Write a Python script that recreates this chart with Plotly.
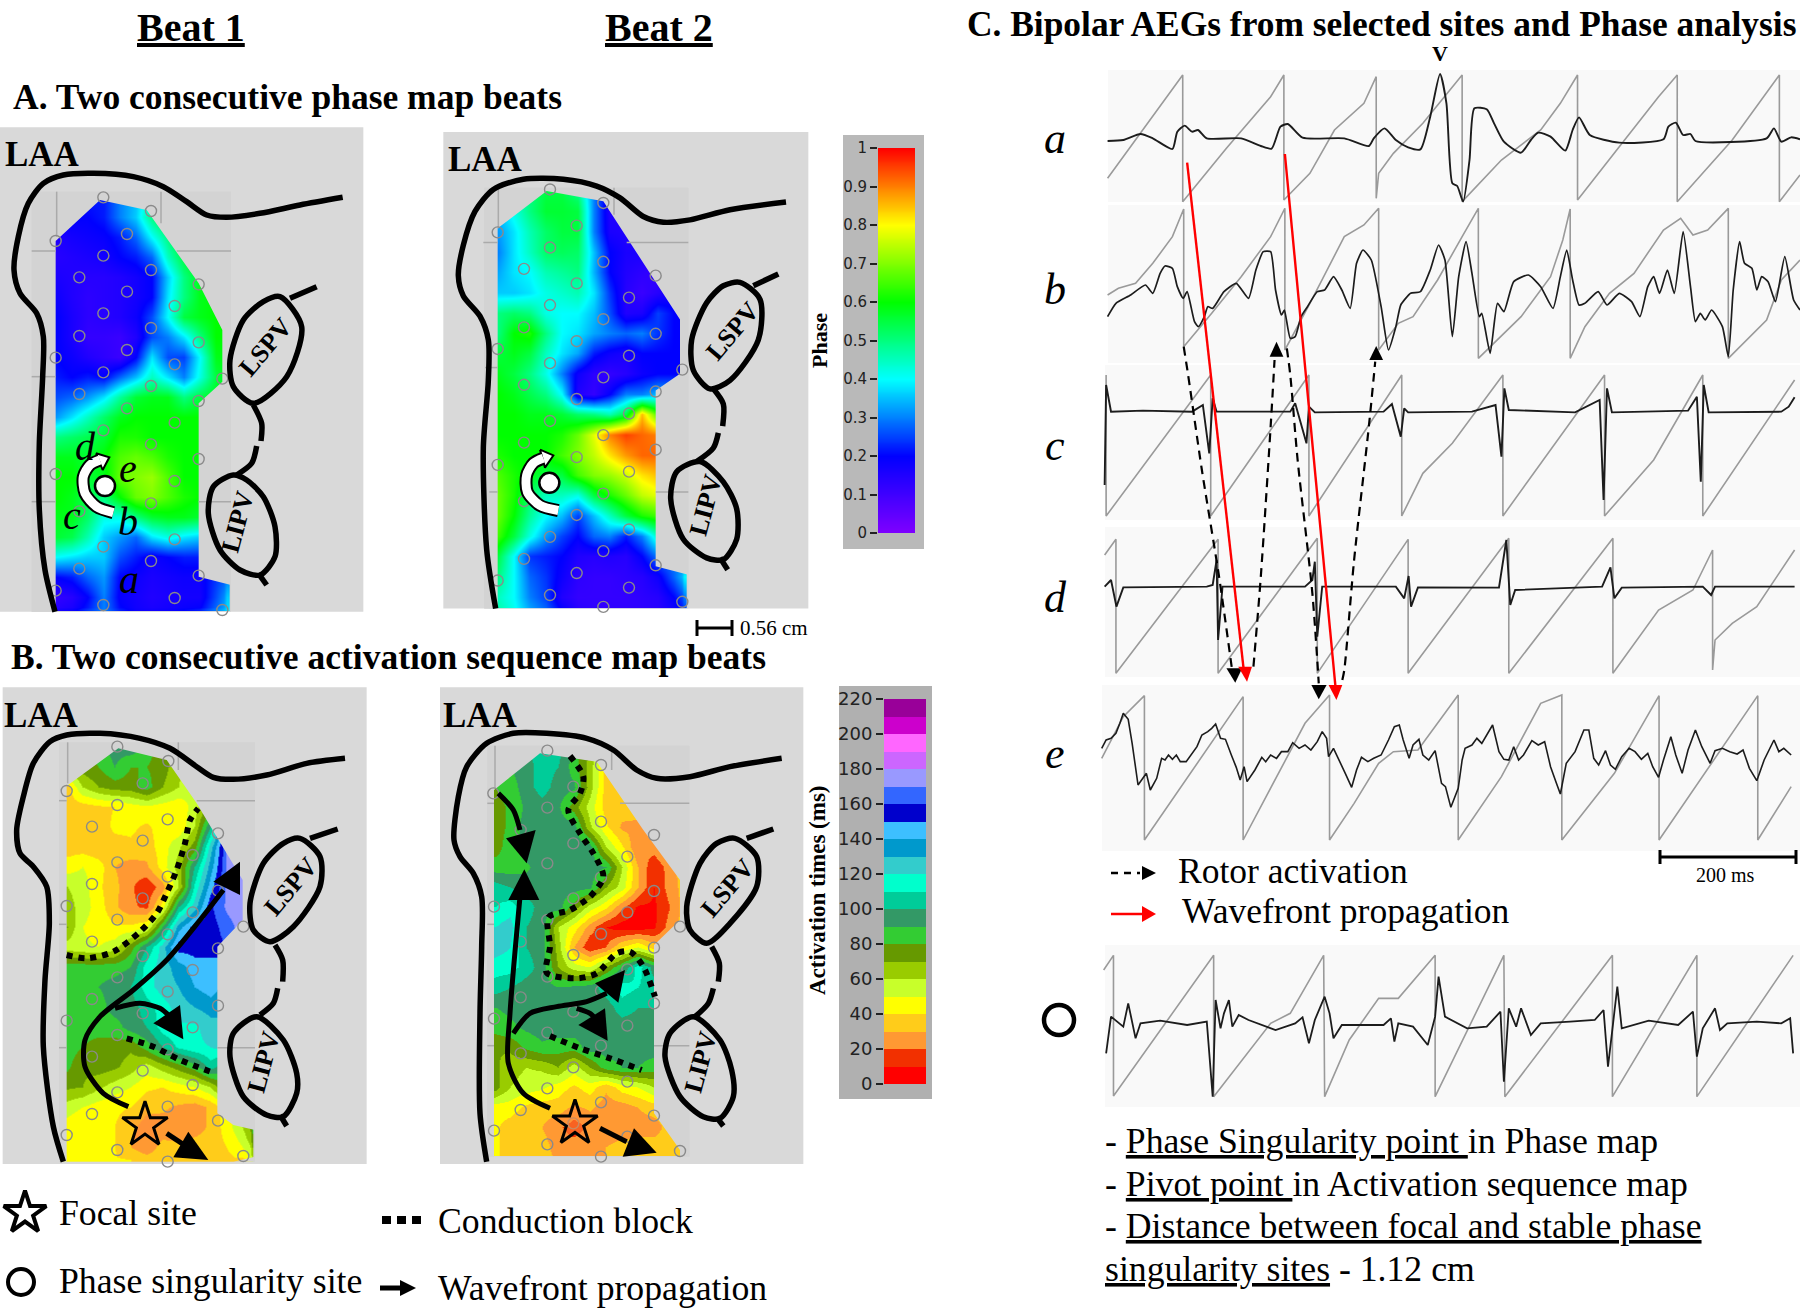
import plotly.graph_objects as go

W, H = 1800, 1308
SERIF = "Liberation Serif"
GRAY = "#9a9a9a"

# ---------- phase maps (values in percent of a cycle) ----------
a1_x = [167,215,263,311,359,407,455,503,551,599,647,695]
a1_y = [260+60*i for i in range(22)]
a1_z = [
[20,20,22,22,30,35,45,55,60,60,60,60],
[20,20,20,22,30,36,50,58,60,60,60,60],
[15,17,18,19,22,28,40,50,60,60,60,60],
[14,15,16,17,20,22,28,45,55,60,60,60],
[16,15,14,14,15,17,20,36,50,58,60,60],
[18,15,13,14,15,17,20,38,50,58,60,60],
[20,16,13,14,15,18,26,40,55,58,60,60],
[20,16,12,12,11,15,26,30,38,50,60,60],
[20,18,15,13,11,20,38,26,25,40,58,60],
[22,20,22,20,28,35,45,38,30,42,55,60],
[26,28,32,38,48,56,58,58,50,55,58,60],
[32,38,45,52,58,60,60,60,60,60,60,60],
[50,52,54,56,62,62,60,60,60,60,60,60],
[58,58,56,60,66,68,66,62,60,60,60,60],
[60,60,56,58,68,70,72,66,60,60,60,60],
[60,58,54,50,60,68,70,66,62,60,60,60],
[58,58,52,42,42,50,56,58,58,56,56,56],
[56,54,46,36,32,28,38,42,38,36,36,36],
[40,38,36,36,26,22,18,20,22,22,22,24],
[20,22,28,32,20,18,16,17,18,18,24,30],
[12,14,20,30,19,17,15,16,17,17,26,36],
[16,18,24,30,22,18,17,18,20,22,30,38]]
a1_poly = [(167,393),(300,270),(440,300),(596,520),(667,660),(667,815),(596,880),(596,1400),(693,1425),(693,1505),(167,1505)]
a1_sx = [310,453,167,381,310,453,238,596,381,524,310,453,238,596,381,167,524,310,667,453,238,596,381,524,310,453,596,167,524,453,238,524,310,453,238,596,167,524,310,667]
a1_sy = [262,303,393,372,437,480,502,523,545,588,610,654,678,697,720,743,763,787,806,828,852,873,895,938,961,1003,1047,1092,1113,1180,1204,1288,1310,1353,1376,1397,1442,1464,1485,1500]

a2_x = [203,251,299,347,395,443,491,539,587,635,683,731,779]
a2_y = [240+60*i for i in range(22)]
a2_z = [
[40,45,50,55,55,50,30,16,15,15,15,15,15],
[35,42,50,56,56,55,30,15,15,15,15,15,15],
[32,38,46,52,55,55,30,16,15,15,15,15,15],
[30,38,45,52,53,52,35,20,16,16,16,16,16],
[33,38,40,46,48,50,34,20,15,13,12,14,18],
[36,36,38,42,44,46,38,24,14,11,14,18,20],
[50,52,50,42,40,40,35,26,15,16,25,20,20],
[50,60,62,50,40,38,33,30,28,30,24,20,20],
[55,58,55,45,38,33,22,18,16,20,20,20,20],
[58,55,50,42,30,18,13,12,14,18,20,20,20],
[60,58,54,50,40,15,12,20,30,30,35,35,35],
[60,60,58,58,56,52,50,46,55,85,65,60,60],
[60,60,60,60,62,68,78,90,95,92,90,90,90],
[62,60,60,60,65,70,75,82,88,92,92,92,92],
[66,62,58,55,55,65,70,72,76,82,85,85,85],
[68,62,52,45,45,42,55,62,68,75,78,78,78],
[68,60,48,40,35,25,35,45,55,62,65,65,65],
[65,55,42,32,25,20,28,30,22,30,45,45,45],
[55,40,24,22,20,15,14,15,14,20,30,30,30],
[50,40,28,24,18,13,12,12,13,14,18,28,40],
[45,40,30,25,15,12,12,12,12,13,14,20,30],
[48,42,35,30,22,15,13,13,13,13,14,16,22]]
a2_poly = [(203,350),(350,240),(520,270),(750,620),(750,780),(677,830),(677,1350),(775,1375),(775,1475),(203,1475)]
a2_sx = [360,520,203,440,360,520,282,677,440,597,360,520,282,677,440,203,597,360,757,520,282,677,440,597,360,520,282,677,440,203,597,520,282,440,597,360,520,282,677,440,203,597,360,757,520]
a2_sy = [235,275,362,342,407,449,470,490,513,555,577,619,643,662,684,707,727,749,768,791,813,833,855,898,920,962,984,1005,1027,1050,1070,1135,1157,1198,1241,1263,1305,1328,1347,1370,1392,1413,1435,1455,1470]

# ---------- activation maps (ms) ----------
c1_x = [200,248,296,344,392,440,488,536,584,632,680,728,776]
c1_y = [200+60*i for i in range(22)]
c1_z = [
[80,80,85,95,95,85,75,65,60,60,60,60,60],
[70,75,80,90,80,80,75,62,55,50,50,50,50],
[35,60,70,75,75,85,70,60,50,50,50,50,50],
[35,35,38,40,45,48,45,42,55,75,120,130,130],
[35,33,35,42,42,38,45,42,60,100,155,178,178],
[35,35,32,36,38,35,45,58,75,125,170,178,178],
[45,50,45,30,25,28,45,65,100,135,170,178,178],
[60,55,42,33,22,12,25,60,112,145,172,178,178],
[65,55,45,32,22,18,45,100,125,158,172,178,178],
[70,50,45,42,42,48,90,135,155,155,165,175,175],
[55,52,50,55,75,100,125,155,155,155,160,165,165],
[85,85,85,85,90,115,125,135,145,145,140,140,140],
[85,85,90,95,100,115,125,130,140,145,135,130,130],
[85,85,85,95,95,105,115,125,130,135,135,128,128],
[85,85,85,85,95,100,115,118,118,125,125,125,125],
[85,80,75,75,72,85,100,112,118,120,125,125,125],
[82,72,75,72,65,55,65,75,85,105,90,90,90],
[72,70,62,55,50,42,40,45,50,60,85,85,85],
[55,50,45,42,40,33,32,28,25,32,45,55,85],
[45,42,40,40,33,25,25,22,25,32,45,60,85],
[42,42,42,40,30,25,33,33,35,35,40,50,70],
[42,42,42,42,40,38,35,35,35,35,35,35,55]]
c1_poly = [(200,318),(355,205),(500,240),(590,370),(650,470),(728,600),(728,720),(652,800),(652,1300),(700,1335),(765,1350),(765,1430),(700,1445),(200,1445)]
c1_sx = [352,505,200,428,352,503,276,654,428,578,352,503,276,654,428,200,578,352,730,503,276,654,428,578,352,503,276,654,428,200,578,352,503,276,428,578,352,503,276,654,200,352,730,503]
c1_sy = [200,243,333,310,375,418,440,460,482,525,547,590,612,632,655,678,697,719,740,763,785,805,828,870,892,935,957,977,1000,1022,1042,1065,1108,1130,1172,1215,1237,1280,1302,1322,1365,1410,1428,1445]

c2_x = [192,240,288,336,384,432,480,528,576,624,672,720,768]
c2_y = [200+60*i for i in range(22)]
c2_z = [
[95,95,100,105,105,85,70,40,35,35,35,35,35],
[90,90,95,105,100,85,65,35,35,35,35,35,35],
[80,85,95,105,95,92,65,35,35,35,35,35,35],
[75,82,92,95,92,75,55,35,35,33,33,33,33],
[75,82,95,95,95,95,62,42,28,28,33,33,33],
[75,85,95,95,95,95,95,60,42,20,25,35,35],
[85,85,88,95,95,95,95,90,60,30,12,25,38],
[105,100,95,95,95,95,92,70,55,30,10,25,35],
[110,115,105,95,95,75,55,42,22,8,8,20,35],
[120,125,100,95,60,45,25,10,5,5,8,25,35],
[125,120,100,95,65,30,12,20,40,50,35,35,35],
[115,115,105,95,70,55,50,70,90,115,95,95,95],
[105,100,95,95,90,92,95,105,115,110,105,105,105],
[90,92,95,95,95,95,95,95,105,100,100,100,100],
[85,88,92,95,95,95,95,95,95,95,95,95,95],
[70,72,82,88,85,85,95,95,95,95,95,95,95],
[72,65,60,62,70,55,70,85,90,90,85,85,85],
[75,60,55,52,45,38,45,32,45,50,60,60,60],
[45,45,38,35,35,28,32,25,25,30,35,35,35],
[42,35,30,30,22,15,22,22,22,25,25,35,35],
[42,35,35,35,25,25,28,30,35,35,35,35,38],
[42,38,35,35,30,28,28,30,35,35,35,35,38]]
c2_poly = [(192,330),(330,220),(500,245),(640,450),(750,600),(750,720),(672,795),(672,1300),(750,1410),(750,1430),(192,1430)]
c2_sx = [352,513,190,430,352,513,272,672,430,592,352,513,672,430,192,592,352,750,513,272,672,430,592,352,513,272,672,430,192,592,352,513,272,430,592,352,513,272,672,430,192,592,352,750,513]
c2_sy = [212,255,340,320,383,425,450,465,490,530,550,592,633,655,680,697,720,740,762,785,803,825,868,890,932,952,970,995,1016,1037,1058,1097,1120,1162,1205,1225,1267,1290,1307,1330,1352,1370,1393,1413,1430]

# ---------- anatomy outlines ----------
a1_wall = [(165,1505),(135,1380),(118,1200),(118,1000),(128,800),(130,680),(110,610),(60,550),(42,480),(55,380),(85,280),(130,220),(190,195),(280,190),(400,200),(490,230),(560,275),(620,315),(680,322),(780,310),(900,285),(1028,262)]
a1_lspv = [(840,560),(905,650),(860,800),(760,880),(700,830),(690,750),(730,630),(790,575),(840,560)]
a1_lipv = [(700,1095),(640,1130),(625,1210),(660,1320),(720,1380),(780,1395),(825,1340),(825,1250),(790,1160),(740,1110),(700,1095)]
a1_bits = [[(870,565),(950,530)],[(760,885),(785,940),(783,993)],[(770,1008),(755,1060),(710,1095)],[(775,1390),(800,1425)]]

a2_wall = [(197,1475),(170,1300),(160,1000),(175,800),(175,680),(150,610),(100,550),(85,490),(100,400),(135,300),(190,235),(280,205),(400,205),(500,225),(570,260),(640,315),(700,332),(780,325),(900,295),(1068,272)]
a2_lspv = [(930,510),(990,560),(985,680),(900,800),(840,825),(790,770),(785,680),(830,570),(880,520),(930,510)]
a2_lipv = [(810,1040),(740,1070),(722,1150),(760,1270),(830,1325),(880,1330),(920,1270),(920,1180),(880,1100),(810,1040)]
a2_bits = [[(970,520),(1045,485)],[(850,825),(880,870),(878,935)],[(865,955),(850,1000),(800,1040)],[(870,1325),(893,1360)]]

c1_wall = [(190,1445),(160,1340),(130,1100),(135,900),(148,730),(140,620),(100,560),(60,520),(50,450),(70,350),(100,250),(150,185),(200,165),(300,160),(420,175),(510,205),(590,260),(640,292),(700,298),(800,285),(920,250),(1035,235)]
c1_lspv = [(900,475),(960,530),(960,620),(880,740),(810,785),(760,750),(750,670),(790,550),(850,490),(900,475)]
c1_lipv = [(770,1010),(700,1060),(690,1130),(730,1250),(800,1305),(850,1310),(890,1240),(890,1180),(850,1080),(770,1010)]
c1_bits = [[(930,475),(1013,447)],[(825,795),(848,840),(848,905)],[(833,925),(820,970),(780,1005)],[(840,1305),(860,1338)]]

c2_wall = [(170,1445),(150,1300),(150,1000),(155,800),(155,650),(130,580),(90,530),(72,480),(85,350),(110,260),(170,190),(250,160),(350,160),(470,175),(550,210),(620,270),(680,295),(780,290),(900,260),(1055,235)]
c2_lspv = [(915,475),(980,530),(980,620),(900,730),(830,790),(780,750),(770,680),(810,550),(860,490),(915,475)]
c2_lipv = [(790,1010),(720,1060),(705,1130),(750,1250),(820,1310),(870,1315),(910,1250),(905,1170),(870,1080),(790,1010)]
c2_bits = [[(950,475),(1030,447)],[(845,800),(868,850),(865,905)],[(850,925),(835,970),(795,1010)],[(860,1312),(880,1338)]]

# ---------- wavefront arrows and conduction block ----------
c1_stems = [[(385,1280),(310,1240),(255,1160),(255,1080),(300,1010),(400,930),(500,840),(600,720),(670,630)],[(345,985),(420,970),(480,985),(510,1010)],[(500,1360),(560,1400)]]
c1_heads = [[(640,605),(720,545),(720,645)],[(460,1030),(540,975),(550,1078)],[(565,1355),(625,1440),(520,1432)]]
c1_blocks = [[(200,825),(260,835),(340,815),(420,755),(470,700),(500,640),(530,570),(555,490),(570,420),(595,385)],[(380,1075),(460,1100),(540,1140),(645,1180)]]
c2_stems = [[(205,340),(250,390),(270,450)],[(360,1285),(280,1240),(235,1150),(240,1000),(270,650)],[(250,1060),(300,1000),(380,980),(470,965),(530,940)],[(440,985),(480,1000),(500,1020)],[(510,1345),(590,1385)]]
c2_heads = [[(228,475),(317,450),(290,550)],[(235,660),(328,660),(283,568)],[(495,910),(585,870),(565,968)],[(445,1035),(525,985),(533,1082)],[(612,1345),(680,1418),(578,1430)]]
c2_blocks = [[(420,228),(460,290),(450,340),(415,390),(450,460),(490,520),(520,590),(480,650),(420,690),(355,712),(360,800),(350,878),(440,895),(500,880),(560,820),(600,815),(640,860),(675,950)],[(360,1068),(450,1105),(540,1135),(635,1170)]]

# ---------- rotor marks ----------
a1_arc = [(340,1208),(290,1190),(255,1150),(250,1100),(270,1065),(300,1050)]
a1_arc_head = [(288,1030),(328,1042),(308,1080)]
a1_pivot = (315,1128)
a2_arc = [(385,1185),(330,1170),(292,1130),(290,1080),(310,1045),(340,1030)]
a2_arc_head = [(330,1005),(370,1022),(345,1058)]
a2_pivot = (358,1103)

# ---------- bipolar electrograms ----------
a_phase = [(158,355),(311,45),(311,425),(400,265),(490,110),(517,45),(517,420),(570,340),(620,210),(680,130),(705,50),(705,415),(710,340),(740,280),(800,190),(850,100),(880,45),(880,425),(960,300),(1040,210),(1080,130),(1115,45),(1115,420),(1200,260),(1280,110),(1318,45),(1318,425),(1430,240),(1526,45),(1526,425),(1568,345)]
a_aeg = [(158,243),(190,240),(225,222),(250,235),(290,267),(300,215),(315,197),(330,215),(342,210),(360,235),(430,235),(470,258),(492,266),(510,200),(525,192),(555,233),(640,235),(690,258),(700,235),(722,205),(745,240),(770,262),(795,268),(815,170),(835,42),(848,130),(860,370),(870,378),(882,425),(895,300),(905,145),(930,148),(945,190),(965,245),(1000,278),(1020,240),(1035,218),(1060,230),(1090,272),(1105,210),(1118,172),(1140,225),(1200,248),(1290,238),(1300,200),(1315,188),(1330,225),(1345,222),(1355,243),(1500,235),(1515,205),(1530,245),(1550,232),(1568,238)]
b_phase = [(158,705),(180,685),(215,670),(250,610),(290,530),(313,447),(313,860),(370,760),(430,650),(490,530),(519,445),(519,870),(570,730),(640,530),(680,495),(710,445),(710,870),(750,790),(780,770),(830,660),(880,530),(913,445),(913,895),(1000,770),(1060,650),(1085,540),(1100,447),(1100,895),(1130,800),(1180,700),(1230,640),(1290,510),(1325,475),(1350,525),(1380,510),(1422,445),(1422,895),(1500,780),(1530,660),(1568,600)]
b_aeg = [(158,770),(175,730),(205,705),(235,675),(250,700),(265,640),(275,618),(290,625),(300,680),(312,715),(320,695),(335,785),(343,800),(355,770),(362,740),(372,745),(395,695),(420,670),(445,715),(460,630),(475,575),(490,575),(500,690),(512,765),(518,750),(530,835),(540,830),(552,770),(565,740),(585,695),(600,690),(618,650),(635,690),(652,745),(665,610),(678,570),(695,600),(715,740),(730,870),(745,800),(755,735),(775,700),(795,695),(815,630),(832,555),(845,600),(860,830),(873,650),(888,545),(900,640),(915,770),(920,760),(937,880),(952,730),(965,755),(985,665),(1015,645),(1040,680),(1065,745),(1080,650),(1093,570),(1105,660),(1118,735),(1130,730),(1157,695),(1175,735),(1200,700),(1225,725),(1242,770),(1258,680),(1270,650),(1282,700),(1298,630),(1312,700),(1330,515),(1345,680),(1355,785),(1365,760),(1375,780),(1388,750),(1410,800),(1422,890),(1432,690),(1445,545),(1455,610),(1470,625),(1480,690),(1490,650),(1503,665),(1518,725),(1537,590),(1555,720),(1568,750)]
c_phase = [(155,45),(155,468),(368,45),(368,468),(568,45),(568,468),(757,45),(757,468),(800,340),(860,250),(963,45),(963,468),(1170,45),(1170,468),(1270,300),(1370,45),(1370,468),(1470,250),(1557,60)]
c_aeg = [(152,375),(155,75),(165,155),(230,152),(330,155),(352,135),(365,280),(372,115),(380,155),(530,155),(540,130),(563,250),(568,140),(580,157),(720,155),(737,132),(755,230),(762,145),(770,157),(900,155),(948,135),(960,290),(966,85),(975,150),(1110,157),(1160,120),(1168,420),(1175,85),(1185,157),(1340,152),(1358,110),(1366,365),(1372,75),(1382,157),(1530,155),(1545,140),(1557,112)]
d_phase = [(152,585),(175,538),(175,940),(383,538),(383,940),(585,535),(585,940),(770,538),(770,940),(975,535),(975,940),(1187,535),(1187,940),(1280,750),(1350,690),(1390,570),(1390,930),(1395,840),(1430,790),(1480,740),(1557,570)]
d_aeg = [(152,680),(165,660),(176,740),(190,682),(360,680),(372,675),(380,600),(383,840),(392,680),(560,680),(575,660),(580,605),(585,830),(595,680),(745,680),(762,715),(771,648),(776,740),(790,682),(955,683),(970,540),(978,735),(988,690),(1165,680),(1182,622),(1190,715),(1205,683),(1370,680),(1387,705),(1395,680),(1557,680)]
e_phase = [(146,235),(190,110),(233,47),(233,480),(434,50),(434,480),(560,130),(610,45),(610,480),(660,370),(710,250),(740,215),(790,210),(872,45),(872,480),(960,290),(1040,70),(1083,45),(1083,480),(1190,280),(1281,47),(1281,480),(1482,47),(1482,480),(1550,320)]
e_aeg = [(146,205),(155,180),(165,175),(175,160),(183,130),(190,100),(200,118),(208,190),(220,315),(230,295),(237,280),(245,330),(258,295),(268,235),(275,240),(282,225),(290,238),(298,225),(306,245),(318,245),(328,225),(340,200),(350,165),(362,155),(370,145),(378,132),(388,175),(398,178),(410,225),(420,262),(428,300),(436,260),(442,305),(458,270),(472,232),(480,245),(490,225),(502,235),(512,215),(525,215),(535,188),(548,205),(560,195),(572,210),(585,185),(595,155),(604,175),(608,230),(618,205),(628,235),(642,280),(655,322),(665,270),(675,232),(688,245),(700,235),(715,225),(730,180),(742,140),(752,135),(760,180),(772,235),(780,195),(792,178),(800,225),(812,240),(825,212),(838,310),(846,320),(857,382),(872,325),(880,240),(886,205),(900,195),(910,175),(920,190),(942,135),(955,215),(965,238),(975,240),(985,200),(995,240),(1005,225),(1022,182),(1035,195),(1048,185),(1060,260),(1072,310),(1080,342),(1092,250),(1110,215),(1128,150),(1138,150),(1148,235),(1158,255),(1172,212),(1182,255),(1192,268),(1205,230),(1220,205),(1232,215),(1245,238),(1258,220),(1268,260),(1280,292),(1290,240),(1305,170),(1315,225),(1328,280),(1340,210),(1355,150),(1368,200),(1385,250),(1395,212),(1410,205),(1425,215),(1440,222),(1452,210),(1465,265),(1480,302),(1495,240),(1515,180),(1525,215),(1535,205),(1550,225)]
o_phase = [(150,870),(170,826),(170,1248),(374,826),(374,1250),(490,1030),(530,1000),(598,826),(600,1250),(650,1080),(710,955),(750,955),(825,826),(825,1250),(965,826),(967,1250),(1186,826),(1186,1250),(1358,826),(1358,1250),(1554,826)]
o_aeg = [(155,1120),(165,1010),(190,1040),(200,970),(215,1075),(225,1030),(265,1022),(320,1035),(360,1025),(372,1250),(378,960),(388,1045),(395,1000),(405,960),(412,1040),(425,1005),(445,1020),(500,1050),(540,1030),(555,1012),(568,1090),(580,1020),(600,950),(610,1000),(618,1075),(635,1035),(720,1035),(735,1015),(742,1085),(750,1030),(780,1040),(810,1095),(825,1010),(832,890),(845,1010),(890,1045),(930,1040),(958,995),(965,1205),(975,985),(990,1040),(1000,985),(1020,1065),(1040,1030),(1100,1025),(1150,1020),(1168,990),(1177,1160),(1185,1060),(1196,920),(1205,1045),(1260,1022),(1320,1035),(1350,995),(1358,1130),(1370,1045),(1395,985),(1405,1050),(1420,1030),(1480,1025),(1530,1030),(1548,1015),(1554,1120)]

# propagation links between electrograms
red_links = [[(320,308),(436,1840)],[(519,282),(623,1895)]]
red_heads = [[(424,1820),(452,1820),(442,1865)],[(608,1875),(636,1875),(624,1920)]]
rotor_down = [[(313,860),(322,945),(350,1230),(385,1550),(412,1835)],[(523,865),(530,945),(545,1200),(575,1600),(588,1870)]]
rotor_down_heads = [[(400,1825),(432,1825),(418,1868)],[(573,1875),(604,1875),(588,1918)]]
rotor_up = [[(455,1820),(470,1550),(490,1100),(498,900)],[(636,1860),(640,1830),(660,1500),(690,1100),(703,905)]]
rotor_up_heads = [[(488,890),(516,890),(502,845)],[(691,900),(719,900),(705,858)]]

# ---------- colour bars ----------
phase_ticks = [0,0.1,0.2,0.3,0.4,0.5,0.6,0.7,0.8,0.9,1]
phase_levels = [i/100 for i in range(101)]
phase_colors = ["#7f00ff","#0000ff","#00ffff","#00ff00","#ffff00","#ff0000"]
act_ticks = [0,20,40,60,80,100,120,140,160,180,200,220]
act_bands = [5+10*i for i in range(22)]
act_colors = ["#ff0000","#f23000","#ff9933","#ffcc1a","#ffff00","#c8ff2a","#99cc00","#669900","#33cc33","#339966","#00cc99","#00ffcc","#33cccc","#0099cc","#3dbfff","#0000cc","#3366ff","#9999ff","#cc66ff","#ff66ff","#cc00cc","#990099"]

phase_scale = [[i/5, c] for i, c in enumerate(phase_colors)]
act_scale = []
for i, c in enumerate(act_colors):
    act_scale += [[i/22, c], [(i+1)/22, c]]

fig = go.Figure()
layout_axes = {}
shapes, notes = [], []
n_axes = [0]

def axes(px, xr, yr):
    n_axes[0] += 1
    n = n_axes[0]
    sx = "" if n == 1 else str(n)
    x0, y0, w, h = px
    layout_axes[f"xaxis{sx}"] = dict(domain=[x0/W, (x0+w)/W], range=xr, visible=False, anchor=f"y{sx}", fixedrange=True)
    layout_axes[f"yaxis{sx}"] = dict(domain=[1-(y0+h)/H, 1-y0/H], range=yr, visible=False, anchor=f"x{sx}", fixedrange=True)
    return f"x{sx}", f"y{sx}"

def rect(x0, y0, x1, y1, color):
    shapes.append(dict(type="rect", xref="paper", yref="paper", x0=x0/W, x1=x1/W, y0=1-y0/H, y1=1-y1/H,
                       fillcolor=color, line=dict(width=0), layer="below"))

def text(px, py, s, size, anchor="center", angle=0, font=SERIF, color="black"):
    notes.append(dict(xref="paper", yref="paper", x=px/W, y=1-py/H, text=s, showarrow=False, xanchor=anchor, yanchor="middle",
                      textangle=angle, font=dict(family=font, size=size, color=color)))

def line(pts, xa, ya, color="black", width=5.5, dash=None, spline=True, smooth=0.8):
    fig.add_trace(go.Scatter(x=[p[0] for p in pts], y=[p[1] for p in pts], mode="lines", xaxis=xa, yaxis=ya, hoverinfo="skip",
        showlegend=False, line=dict(color=color, width=width, dash=dash, shape="spline" if spline else "linear", smoothing=smooth if spline else None)))

def poly(pts, xa, ya, color, edge=None, w=0):
    pts = list(pts) + [pts[0]]
    fig.add_trace(go.Scatter(x=[p[0] for p in pts], y=[p[1] for p in pts], mode="lines", fill="toself", fillcolor=color, xaxis=xa, yaxis=ya,
        hoverinfo="skip", showlegend=False, line=dict(color=edge or color, width=w)))

def area(p):
    return sum(p[i][0]*p[(i+1)%len(p)][1]-p[(i+1)%len(p)][0]*p[i][1] for i in range(len(p)))

def edges(c, lo, hi):
    return [lo] + [(c[i]+c[i+1])/2 for i in range(len(c)-1)] + [hi]

def map_panel(box, yr, panel, inner, xs, ys, zs, outline, scale, zmax, sites, grid=(), inner_color="#d3d3d3"):
    xa, ya = axes(box, [0, box[2]*3], yr)
    sy = (yr[0])/box[3]
    P = lambda x, y: (box[0]+x/3, box[1]+y/sy)
    rect(*P(panel[0], panel[1]), *P(panel[2], panel[3]), "#d9d9d9")
    rect(*P(inner[0], inner[1]), *P(inner[2], inner[3]), inner_color)
    poly_pts = outline["mask"]
    fig.add_trace(go.Heatmap(x=edges(xs, max(inner[0]+4, xs[0]-24), min(inner[2]-4, xs[-1]+24)), y=edges(ys, inner[1]+4, inner[3]-1), z=zs,
        zmin=0, zmax=zmax, colorscale=scale, zsmooth="best", showscale=False, xaxis=xa, yaxis=ya, hoverinfo="skip"))
    # everything outside the mapped polygon is covered with the panel tone
    hole = list(poly_pts)
    outer = [(inner[0],inner[1]),(inner[2],inner[1]),(inner[2],inner[3]),(inner[0],inner[3])]
    if area(hole)*area(outer) > 0:
        hole = hole[::-1]
    poly(outer + [outer[0]] + hole + [hole[0]], xa, ya, inner_color)
    for seg in grid:
        line(seg, xa, ya, "#aaaaaa", 1.5, spline=False)
    fig.add_trace(go.Scatter(x=sites[0], y=sites[1], mode="markers", xaxis=xa, yaxis=ya, hoverinfo="skip", showlegend=False,
        marker=dict(symbol="circle-open", size=11, color="#8a8a8a", line=dict(width=1.4, color="#8a8a8a"))))
    line(outline["wall"], xa, ya)
    line(outline["lspv"], xa, ya)
    line(outline["lipv"], xa, ya)
    for b in outline["bits"]:
        line(b, xa, ya)
    return xa, ya, P

def rotor(xa, ya, arc, head, pivot):
    line(arc, xa, ya, "black", 13)
    poly(head, xa, ya, "white", "black", 2)
    line(arc, xa, ya, "white", 9)
    fig.add_trace(go.Scatter(x=[pivot[0]], y=[pivot[1]], mode="markers", xaxis=xa, yaxis=ya, hoverinfo="skip", showlegend=False,
        marker=dict(size=20, color="white", line=dict(color="black", width=2.5))))

def arrows(xa, ya, stems, heads, blocks, star):
    for b in blocks:
        line(b, xa, ya, "black", 6, dash="6px,6px")
    for s in stems:
        line(s, xa, ya, "black", 5)
    for h in heads:
        poly(h, xa, ya, "black")
    fig.add_trace(go.Scatter(x=[star[0]], y=[star[1]], mode="markers", xaxis=xa, yaxis=ya, hoverinfo="skip", showlegend=False,
        marker=dict(symbol="star", size=34, color="rgba(255,140,60,0.55)", line=dict(color="black", width=3))))

# ---- panel A ----
xa, ya, P = map_panel((0,110,470,520), [1560,0], (0,52,1090,1505), (95,245,693,1505), a1_x, a1_y, a1_z,
    dict(mask=a1_poly, wall=a1_wall, lspv=a1_lspv, lipv=a1_lipv, bits=a1_bits), phase_scale, 100, (a1_sx, a1_sy),
    grid=[[(95,423),(167,423)],[(530,423),(693,423)],[(95,800),(167,800)],[(95,1175),(167,1175)],[(596,1175),(693,1175)],[(170,245),(170,380)],[(483,245),(483,340)]])
rotor(xa, ya, a1_arc, a1_arc_head, a1_pivot)
for lab, x, y in [("d",255,1010),("e",385,1075),("c",215,1215),("b",385,1235),("a",387,1410)]:
    text(*P(x, y), f"<i>{lab}</i>", 40)

xa, ya, P2 = map_panel((430,110,520,530), [1568,0], (40,65,1135,1475), (163,230,775,1475), a2_x, a2_y, a2_z,
    dict(mask=a2_poly, wall=a2_wall, lspv=a2_lspv, lipv=a2_lipv, bits=a2_bits), phase_scale, 100, (a2_sx, a2_sy),
    grid=[[(160,392),(203,392)],[(590,392),(775,392)],[(165,762),(203,762)],[(178,1130),(203,1130)],[(677,1130),(775,1130)],[(205,235),(205,350)],[(552,230),(552,310)]])
rotor(xa, ya, a2_arc, a2_arc_head, a2_pivot)

# ---- panel B ----
xa, ya, _ = map_panel((0,680,470,490), [1470,0], (8,22,1100,1452), (177,187,765,1445), c1_x, c1_y, c1_z,
    dict(mask=c1_poly, wall=c1_wall, lspv=c1_lspv, lipv=c1_lipv, bits=c1_bits), act_scale, 220, (c1_sx, c1_sy),
    grid=[[(177,362),(200,362)],[(590,362),(765,362)],[(177,733),(200,733)],[(177,1103),(200,1103)],[(652,1103),(765,1103)],[(203,187),(203,310)],[(535,187),(535,270)]])
arrows(xa, ya, c1_stems, c1_heads, c1_blocks, (435,1335))

xa, ya, _ = map_panel((430,680,520,490), [1470,0], (30,22,1120,1452), (172,197,778,1430), c2_x, c2_y, c2_z,
    dict(mask=c2_poly, wall=c2_wall, lspv=c2_lspv, lipv=c2_lipv, bits=c2_bits), act_scale, 220, (c2_sx, c2_sy),
    grid=[[(172,370),(192,370)],[(570,370),(778,370)],[(172,733),(192,733)],[(172,1097),(192,1097)],[(672,1097),(778,1097)],[(195,197),(195,325)],[(545,197),(545,270)]])
arrows(xa, ya, c2_stems, c2_heads, c2_blocks, (435,1330))

# ---- colour bars ----
rect(843,135,924,549,"#b9b9b9")
xa, ya = axes((878,148,37,385), [0,1], [0,1])
fig.add_trace(go.Heatmap(x=[0,1], y=phase_levels, z=[[v,v] for v in phase_levels], zmin=0, zmax=1, colorscale=phase_scale, showscale=False, xaxis=xa, yaxis=ya, hoverinfo="skip", zsmooth="best"))
layout_axes["yaxis"+xa[1:]].update(visible=True, showgrid=False, zeroline=False, showline=False, ticks="outside", ticklen=7, tickcolor="#222", tickwidth=2,
    tickvals=phase_ticks, ticktext=[str(t) for t in phase_ticks], tickfont=dict(family="DejaVu Sans", size=15, color="#222"))

rect(839,686,932,1099,"#b0b0b0")
xa, ya = axes((884,699,42,385), [0,1], [0,220])
fig.add_trace(go.Heatmap(x=[0,1], y=act_bands, z=[[v,v] for v in act_bands], zmin=0, zmax=220, colorscale=act_scale, showscale=False, xaxis=xa, yaxis=ya, hoverinfo="skip"))
layout_axes["yaxis"+xa[1:]].update(visible=True, showgrid=False, zeroline=False, showline=False, ticks="outside", ticklen=7, tickcolor="#222", tickwidth=2,
    tickvals=act_ticks, ticktext=[str(t) for t in act_ticks], tickfont=dict(family="DejaVu Sans", size=18, color="#222"))
text(819,341,"<b>Phase</b>",22,angle=-90)
text(817,890,"<b>Activation times (ms)</b>",23,angle=-90)

# ---- electrograms ----
for r in [(1108,70,692,132),(1108,205,692,158),(1105,365,695,155),(1105,527,695,150),(1102,685,698,166),(1105,945,695,162)]:
    rect(r[0],r[1],r[0]+r[2],r[1]+r[3],"#f9f9f9")
xa, ya = axes((1030,60,770,320), [0,1568], [960,0])
line(a_phase, xa, ya, GRAY, 1.6, spline=False)
line(a_aeg, xa, ya, "#1c1c1c", 1.9, smooth=0.6)
line(b_phase, xa, ya, GRAY, 1.6, spline=False)
line(b_aeg, xa, ya, "#1c1c1c", 1.7, smooth=0.5)
xa, ya = axes((1030,360,770,320), [0,1568], [960,0])
line(c_phase, xa, ya, GRAY, 1.6, spline=False)
line(c_aeg, xa, ya, "#1c1c1c", 1.9, spline=False)
line(d_phase, xa, ya, GRAY, 1.6, spline=False)
line(d_aeg, xa, ya, "#1c1c1c", 1.9, spline=False)
xa, ya = axes((1030,680,770,430), [0,1568], [1290,0])
line(e_phase, xa, ya, GRAY, 1.6, spline=False)
line(e_aeg, xa, ya, "#1c1c1c", 1.6, spline=False)
line(o_phase, xa, ya, GRAY, 1.6, spline=False)
line(o_aeg, xa, ya, "#1c1c1c", 1.8, spline=False)
xa, ya = axes((1030,60,770,1050), [0,1568], [3150,0])
for s in rotor_down + rotor_up:
    line(s, xa, ya, "black", 2.2, dash="9px,6px")
for h in rotor_down_heads + rotor_up_heads:
    poly(h, xa, ya, "black")
for s in red_links:
    line(s, xa, ya, "#ff0000", 2.4, spline=False)
for h in red_heads:
    poly(h, xa, ya, "#ff0000")

# ---- scale bars and legend glyphs ----
xa, ya = axes((0,0,W,H), [0,W], [H,0])
for seg in [[(697,628),(732,628)],[(697,620),(697,636)],[(732,620),(732,636)],[(1660,857),(1796,857)],[(1660,850),(1660,864)],[(1796,850),(1796,864)]]:
    line(seg, xa, ya, "black", 3, spline=False)
line([(1111,873),(1140,873)], xa, ya, "black", 2.5, dash="7px,6px", spline=False)
poly([(1142,866),(1142,880),(1156,873)], xa, ya, "black")
line([(1111,914),(1142,914)], xa, ya, "#ff0000", 2.5, spline=False)
poly([(1142,906),(1142,922),(1156,914)], xa, ya, "#ff0000")
line([(382,1220),(421,1220)], xa, ya, "black", 8, dash="9px,6px", spline=False)
line([(380,1288),(402,1288)], xa, ya, "black", 5, spline=False)
poly([(400,1280),(400,1296),(416,1288)], xa, ya, "black")
fig.add_trace(go.Scatter(x=[25,21,1059], y=[1213,1282,1020], mode="markers", xaxis=xa, yaxis=ya, hoverinfo="skip", showlegend=False,
    marker=dict(symbol=["star-open","circle-open","circle-open"], size=[32,26,30], color="black", opacity=1, line=dict(color="black", width=[4,4,4.5]))))

# ---- text ----
U = '<span style="text-decoration:underline">%s</span>'
text(191,27,"<b>"+U%"Beat 1"+"</b>",40)
text(659,27,"<b>"+U%"Beat 2"+"</b>",40)
text(1381,24,"<b>C. Bipolar AEGs from selected sites and Phase analysis</b>",35.4)
text(11,97,"<b>A. Two consecutive phase map beats</b>",35.5,"left")
text(9,657,"<b>B. Two consecutive activation sequence map beats</b>",35.5,"left")
for x, y in [(42,155),(485,160),(41,715),(480,715)]:
    text(x,y,"<b>LAA</b>",35)
for x, y in [(265,347),(732,331),(291,887),(727,888)]:
    text(x,y,"<b>LSPV</b>",26,angle=-50)
for x, y in [(238,522),(705,505),(263,1062),(700,1062)]:
    text(x,y,"<b>LIPV</b>",26,angle=-75)
text(738,628,"0.56 cm",21,"left")
text(1725,875,"200 ms",20)
text(1440,54,"<b>V</b>",22)
for lab, x, y in [("a",1055,138),("b",1055,290),("c",1055,446),("d",1055,597),("e",1055,753)]:
    text(x,y,f"<i>{lab}</i>",44)
text(1176,871,"Rotor activation",35.5,"left")
text(1180,911,"Wavefront propagation",35.5,"left")
text(57,1213,"Focal site",35.7,"left")
text(57,1281,"Phase singularity site",35.7,"left")
text(436,1221,"Conduction block",35.7,"left")
text(436,1288,"Wavefront propagation",35.7,"left")
text(1103,1141,"- "+U%"Phase Singularity point "+"in Phase map",35.7,"left")
text(1103,1184,"- "+U%"Pivot point "+"in Activation sequence map",35.7,"left")
text(1103,1226,"- "+U%"Distance between focal and stable phase",35.7,"left")
text(1103,1269,U%"singularity sites"+" - 1.12 cm",35.7,"left")

fig.update_layout(width=W, height=H, margin=dict(l=0,r=0,t=0,b=0,pad=0,autoexpand=False), paper_bgcolor="white", plot_bgcolor="rgba(0,0,0,0)",
                  showlegend=False, shapes=shapes, annotations=notes, **layout_axes)
fig.write_html("out.html", config={"displayModeBar": False},
               post_script="document.body.style.margin='0';document.documentElement.style.overflow='hidden';")
